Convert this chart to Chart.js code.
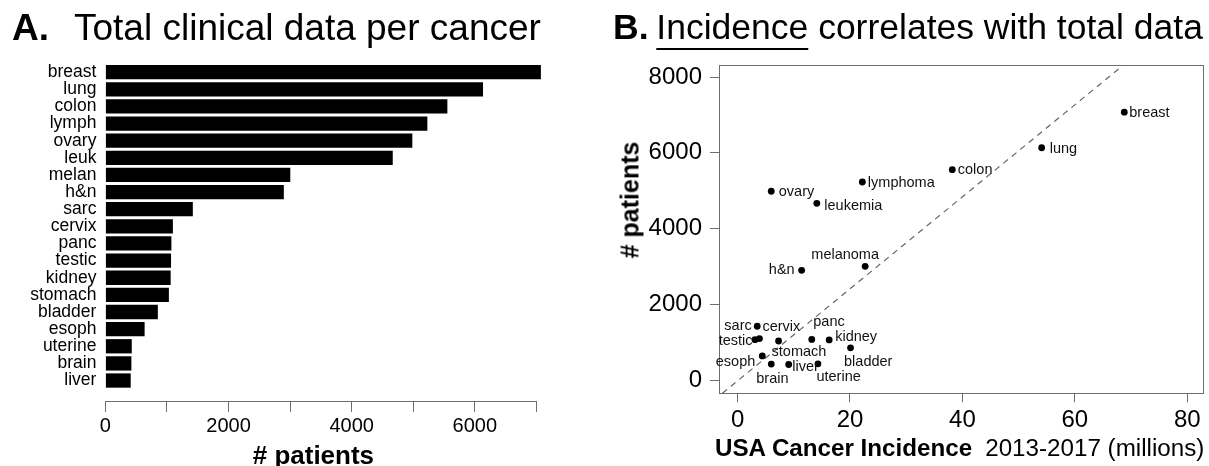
<!DOCTYPE html>
<html>
<head>
<meta charset="utf-8">
<script src="https://cdn.jsdelivr.net/npm/chart.js@4.4.1/dist/chart.umd.min.js"></script>
<style>
  html, body { margin: 0; padding: 0; background: #fff; }
  #wrap { position: relative; width: 1209px; height: 466px; background: #fff; overflow: hidden;
          font-family: 'Liberation Sans', Arial, Helvetica, sans-serif; color: #000; }
  canvas { position: absolute; top: 0; }
  .t { position: absolute; white-space: nowrap; line-height: 1; }
</style>
</head>
<body>
<div id="wrap">
  <canvas id="cA" width="600" height="466" style="left:0px"></canvas>
  <canvas id="cB" width="609" height="466" style="left:600px"></canvas>

  <div class="t" style="left:12px; top:8.5px; font-size:37px; font-weight:bold;">A.</div>
  <div class="t" style="left:74px; top:8.5px; font-size:37px;">Total clinical data per cancer</div>

  <div class="t" style="left:613px; top:10px; font-size:35.5px; font-weight:bold;">B.</div>
  <div class="t" style="left:656.3px; top:10px; font-size:35.5px;"><span style="text-decoration:underline; text-decoration-thickness:2px; text-underline-offset:9px;">Incidence</span> correlates with total data</div>

  <div class="t" style="left:313.4px; top:455px; transform:translate(-50%,-50%); font-size:26px; font-weight:bold;"># patients</div>

  <div class="t" style="left:630px; top:200px; transform:translate(-50%,-50%) rotate(-90deg); font-size:25px; font-weight:bold;"># patients</div>

  <div class="t" style="left:715px; top:436.4px; font-size:24.2px;"><b>USA Cancer Incidence</b><span style="margin-left:13px;">2013-2017 (millions)</span></div>
</div>

<script>
// ---------------- Data ----------------
// Panel A: total clinical data per cancer (# patients)
const barCategories = ['breast','lung','colon','lymph','ovary','leuk','melan','h&n','sarc','cervix','panc','testic','kidney','stomach','bladder','esoph','uterine','brain','liver'];
const barPatients   = [7073, 6133, 5554, 5229, 4985, 4667, 3003, 2898, 1420, 1096, 1072, 1066, 1060, 1031, 852, 637, 428, 422, 411];
const xTickValuesA  = [0, 1000, 2000, 3000, 4000, 5000, 6000, 7000];
const xTickLabelsA  = ['0', '', '2000', '', '4000', '', '6000', ''];

// Panel B: incidence vs # patients (same cancers, same order)
const scatterNames     = ['breast','lung','colon','lymphoma','ovary','leukemia','melanoma','h&n','sarc','cervix','panc','testic','kidney','stomach','bladder','esoph','uterine','brain','liver'];
const scatterIncidence = [68.8, 54.1, 38.2, 22.2, 6.0, 14.1, 22.7, 11.4, 3.5, 3.9, 13.2, 3.1, 16.3, 7.3, 20.1, 4.4, 14.3, 6.0, 9.1];
const scatterPatients  = [7073, 6133, 5554, 5229, 4985, 4667, 3003, 2898, 1420, 1096, 1072, 1066, 1060, 1031, 852, 637, 428, 422, 411];
const fitLineX = [-2.7, 68.5];
const fitLineY = [-350, 8300];
const xTickValuesB = [0, 20, 40, 60, 80];
const yTickValuesB = [0, 2000, 4000, 6000, 8000];

// ---------------- Styles ----------------
const FONT = "'Liberation Sans', Arial, Helvetica, sans-serif";
const AXIS_COLOR = '#6e6e6e';
Chart.defaults.font.family = FONT;
Chart.defaults.color = '#000';
Chart.defaults.animation = false;

// label placement for scatter point labels: [dx, dy, textAlign]
const labelPlacement = {
  'breast':   [5, 1, 'left'],
  'lung':     [8, 1, 'left'],
  'colon':    [5.5, 0.5, 'left'],
  'lymphoma': [5.5, 0.5, 'left'],
  'ovary':    [7.5, 0.5, 'left'],
  'leukemia': [7.5, 2.5, 'left'],
  'melanoma': [-20, -11, 'center'],
  'h&n':      [-7, 0, 'right'],
  'sarc':     [-5.5, -0.5, 'right'],
  'cervix':   [3, -11.5, 'left'],
  'panc':     [1.5, -17, 'left'],
  'testic':   [-2.5, 1.5, 'right'],
  'kidney':   [6, -2.5, 'left'],
  'stomach':  [-7, 11, 'left'],
  'bladder':  [-6.5, 14.5, 'left'],
  'esoph':    [-7, 6.5, 'right'],
  'uterine':  [-1.5, 13.5, 'left'],
  'brain':    [-15, 14.5, 'left'],
  'liver':    [3.5, 2.5, 'left']
};

const pointLabelPlugin = {
  id: 'pointLabels',
  afterDatasetsDraw(chart) {
    const meta = chart.getDatasetMeta(1);
    const ctx = chart.ctx;
    ctx.save();
    ctx.font = '14.5px ' + FONT;
    ctx.fillStyle = '#111';
    ctx.textBaseline = 'middle';
    meta.data.forEach((el, i) => {
      const name = scatterNames[i];
      const p = labelPlacement[name] || [6, 0, 'left'];
      ctx.textAlign = p[2];
      ctx.fillText(name, el.x + p[0], el.y + p[1]);
    });
    ctx.restore();
  }
};

// ---------------- Chart A ----------------
new Chart(document.getElementById('cA'), {
  type: 'bar',
  data: {
    labels: barCategories,
    datasets: [{
      data: barPatients,
      backgroundColor: '#000',
      borderColor: '#333',
      borderWidth: 0,
      categoryPercentage: 1.0,
      barPercentage: 1 / 1.2,
      clip: false
    }]
  },
  options: {
    indexAxis: 'y',
    responsive: false,
    devicePixelRatio: 1,
    animation: false,
    layout: { padding: { top: 63.6, right: 63.6, bottom: 76.9, left: 0 } },
    plugins: { legend: { display: false }, tooltip: { enabled: false } },
    scales: {
      y: {
        type: 'category',
        position: 'left',
        afterFit: s => { s.width = 105.4; },
        grid: { display: false, drawTicks: false },
        border: { display: false },
        ticks: { autoSkip: false, padding: 9, font: { size: 17.5, lineHeight: 1 }, color: '#000' }
      },
      x: {
        type: 'linear',
        position: { y: 19.237 },
        min: 0,
        max: 7000,
        afterBuildTicks: s => { s.ticks = xTickValuesA.map(v => ({ value: v })); },
        afterFit: s => { s.height = 60; },
        grid: { display: true, drawOnChartArea: false, drawTicks: true, tickLength: 10, tickColor: AXIS_COLOR, tickWidth: 1 },
        border: { display: true, color: AXIS_COLOR, width: 1 },
        ticks: {
          autoSkip: false, maxRotation: 0, minRotation: 0, padding: 3,
          font: { size: 20 }, color: '#000',
          callback: (v) => { const k = xTickValuesA.indexOf(v); return k >= 0 ? xTickLabelsA[k] : ''; }
        }
      }
    }
  }
});

// ---------------- Chart B ----------------
new Chart(document.getElementById('cB'), {
  type: 'scatter',
  data: {
    datasets: [
      {
        type: 'line',
        data: fitLineX.map((x, i) => ({ x: x, y: fitLineY[i] })),
        borderColor: '#666',
        borderWidth: 1.2,
        borderDash: [6, 5],
        pointRadius: 0,
        fill: false,
        showLine: true,
        order: 2
      },
      {
        type: 'scatter',
        data: scatterIncidence.map((x, i) => ({ x: x, y: scatterPatients[i] })),
        pointRadius: 3.4,
        pointHoverRadius: 3.4,
        backgroundColor: '#000',
        borderWidth: 0,
        order: 1
      }
    ]
  },
  options: {
    responsive: false,
    devicePixelRatio: 1,
    animation: false,
    layout: { padding: { top: 65.7, right: 6, bottom: 22.7, left: 0 } },
    plugins: { legend: { display: false }, tooltip: { enabled: false } },
    scales: {
      x: {
        type: 'linear',
        position: 'bottom',
        min: -3.3,
        max: 82.8,
        afterBuildTicks: s => { s.ticks = xTickValuesB.map(v => ({ value: v })); },
        afterFit: s => { s.height = 50; },
        grid: { display: true, drawOnChartArea: false, drawTicks: true, tickLength: 9, tickColor: AXIS_COLOR },
        border: { display: true, color: AXIS_COLOR, width: 1 },
        ticks: { autoSkip: false, maxRotation: 0, padding: 3.3, font: { size: 24 }, color: '#000', callback: v => String(v) }
      },
      y: {
        type: 'linear',
        position: 'left',
        min: -350,
        max: 8300,
        afterBuildTicks: s => { s.ticks = yTickValuesB.map(v => ({ value: v })); },
        afterFit: s => { s.width = 119; },
        grid: { display: true, drawOnChartArea: false, drawTicks: true, tickLength: 9, tickColor: AXIS_COLOR },
        border: { display: true, color: AXIS_COLOR, width: 1 },
        ticks: { autoSkip: false, padding: 8, font: { size: 24 }, color: '#000', callback: v => String(v) }
      },
      xTop: {
        type: 'linear',
        position: 'top',
        display: true,
        min: -3.3,
        max: 82.8,
        afterFit: s => { s.height = 0; },
        grid: { display: false, drawTicks: false },
        border: { display: true, color: AXIS_COLOR, width: 1 },
        ticks: { display: false }
      },
      yRight: {
        type: 'linear',
        position: 'right',
        display: true,
        min: -350,
        max: 8300,
        afterFit: s => { s.width = 0; },
        grid: { display: false, drawTicks: false },
        border: { display: true, color: AXIS_COLOR, width: 1 },
        ticks: { display: false }
      }
    }
  },
  plugins: [pointLabelPlugin]
});
</script>
</body>
</html>
